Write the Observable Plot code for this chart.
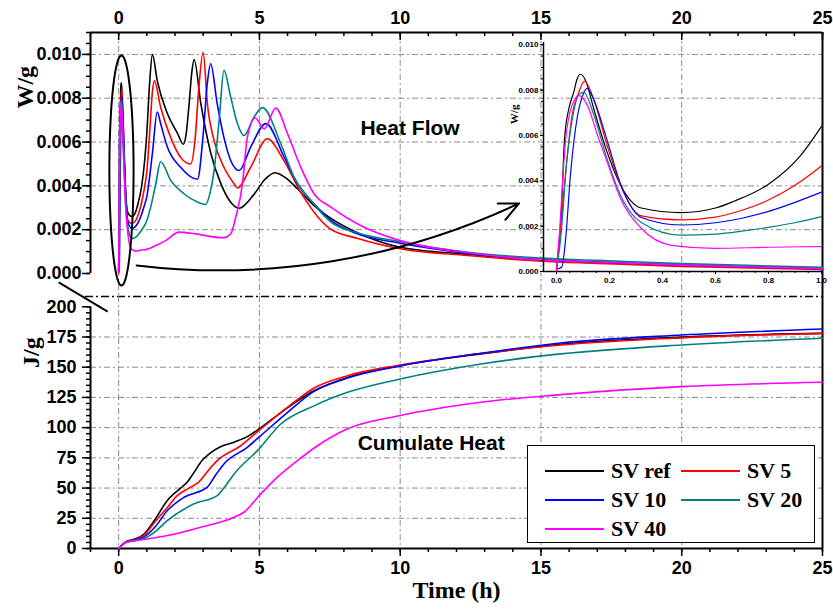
<!DOCTYPE html>
<html><head><meta charset="utf-8">
<script src="https://cdn.jsdelivr.net/npm/d3@7"></script>
<script src="https://cdn.jsdelivr.net/npm/@observablehq/plot@0.6"></script>
<style>
html,body{margin:0;padding:0;background:#fff;}
#chart{position:relative;width:833px;height:613px;overflow:hidden;background:#fff;}
#chart > svg{position:absolute;}
.legend{position:absolute;left:527px;top:445px;width:288px;height:98px;border:1.5px solid #000;background:#fff;box-sizing:border-box;font-family:"Liberation Serif","Times New Roman",serif;font-weight:bold;font-size:22px;}
.legend .sw{position:absolute;height:2px;width:59px;margin-top:-1px;}
.legend .lb{position:absolute;line-height:1;transform:translateY(-52%);white-space:nowrap;}
</style></head><body><div id="chart"></div>
<script>
// ---------- data ----------
const seriesNames = ["SV ref", "SV 5", "SV 10", "SV 20", "SV 40"];
const seriesColors = ["#000000", "#ff0000", "#0000ff", "#008080", "#ff00ff"];

// Heat flow (W/g) vs time (h): [time, value]
const hfRef = [[0,0.0001],[0.02,0.0030],[0.03,0.0058],[0.047,0.0072],[0.065,0.0079],[0.078,0.0085],[0.09,0.0087],[0.109,0.00845],[0.14,0.0072],[0.19,0.0053],[0.24,0.00385],[0.32,0.0028],[0.47,0.0026],[0.6,0.0028],[0.67,0.0031],[0.8,0.00385],[0.92,0.0051],[1.0,0.0064],[1.1,0.0087],[1.2,0.0100],[1.37,0.0088],[1.73,0.0073],[2.09,0.0064],[2.3,0.0059],[2.4,0.0064],[2.5,0.0077],[2.6,0.0092],[2.68,0.00977],[2.92,0.00775],[3.27,0.0055],[3.63,0.0041],[3.98,0.00325],[4.28,0.00298],[4.8,0.0036],[5.2,0.0043],[5.55,0.0046],[6.0,0.0043],[6.35,0.00387],[6.94,0.0031],[7.5,0.00255],[8.5,0.00185],[10,0.0012],[12.4,0.00088],[15,0.00062],[17,0.0005],[20,0.00038],[25,0.00022]];
const hf5 = [[0,0.0],[0.034,0.0043],[0.059,0.0069],[0.084,0.0079],[0.106,0.0084],[0.14,0.0076],[0.19,0.0056],[0.24,0.00385],[0.32,0.00245],[0.47,0.00228],[0.6,0.0024],[0.7,0.0027],[0.8,0.00315],[0.9,0.0038],[1.0,0.00465],[1.1,0.0064],[1.2,0.0083],[1.27,0.0088],[1.49,0.0076],[1.85,0.0062],[2.2,0.0053],[2.56,0.0050],[2.72,0.0062],[2.85,0.0085],[3.0,0.0101],[3.15,0.00775],[3.39,0.00607],[3.74,0.00485],[4.1,0.0041],[4.22,0.0039],[4.69,0.00485],[5.28,0.00615],[5.87,0.00515],[6.47,0.0037],[7.5,0.00205],[8.5,0.0016],[10,0.00113],[12.4,0.00082],[15,0.00056],[17,0.00046],[20,0.00032],[25,0.00018]];
const hf10 = [[0,0.0001],[0.02,0.0002],[0.034,0.00136],[0.053,0.0043],[0.078,0.00677],[0.097,0.0077],[0.116,0.00808],[0.141,0.00757],[0.19,0.00583],[0.24,0.00392],[0.32,0.00238],[0.47,0.00205],[0.6,0.00215],[0.7,0.00235],[0.8,0.00265],[0.9,0.00305],[1.0,0.0035],[1.2,0.0055],[1.37,0.00737],[1.5,0.0068],[1.73,0.00577],[2.2,0.00485],[2.8,0.0043],[3.0,0.0063],[3.15,0.0087],[3.27,0.00957],[3.5,0.00775],[3.74,0.0062],[3.98,0.00516],[4.28,0.0047],[4.69,0.00577],[5.23,0.00684],[5.88,0.00531],[6.35,0.0041],[6.94,0.00318],[7.54,0.00242],[8.5,0.0018],[10,0.00138],[12.4,0.00092],[15,0.00063],[17,0.00053],[20,0.00038],[25,0.00022]];
const hf20 = [[0,0.0001],[0.015,0.00136],[0.04,0.005],[0.065,0.00706],[0.084,0.0078],[0.103,0.0079],[0.141,0.0069],[0.19,0.005],[0.24,0.0034],[0.32,0.00216],[0.47,0.0016],[0.6,0.00165],[0.7,0.00178],[0.8,0.00195],[0.9,0.00215],[1.0,0.00242],[1.15,0.0031],[1.32,0.0041],[1.49,0.0051],[1.85,0.00425],[2.32,0.00364],[2.8,0.00326],[3.09,0.00315],[3.25,0.0037],[3.39,0.0047],[3.57,0.0070],[3.74,0.00927],[3.98,0.00805],[4.22,0.00684],[4.45,0.0063],[4.81,0.00714],[5.11,0.00757],[5.76,0.00592],[6.23,0.0044],[6.83,0.00333],[7.54,0.00234],[8.5,0.00185],[10,0.00145],[12.4,0.00097],[15,0.0007],[17,0.0006],[20,0.00045],[25,0.00028]];
const hf40 = [[0,0.0001],[0.009,0.00136],[0.034,0.00575],[0.059,0.00735],[0.084,0.00776],[0.116,0.00735],[0.154,0.00604],[0.19,0.00487],[0.24,0.00326],[0.317,0.00194],[0.44,0.00114],[0.6,0.00102],[0.8,0.00107],[1.0,0.0011],[1.32,0.00128],[1.67,0.0015],[2.14,0.00189],[2.74,0.00181],[3.69,0.00163],[3.98,0.00181],[4.16,0.00257],[4.4,0.0041],[4.57,0.00622],[4.85,0.0071],[5.17,0.0066],[5.58,0.00755],[6.0,0.00638],[6.47,0.00485],[6.94,0.00364],[7.54,0.00303],[8.72,0.00211],[10,0.0015],[12.4,0.00095],[15,0.00062],[17,0.00052],[20,0.00038],[25,0.00022]];

// Cumulative heat (J/g) vs time (h): [time, value]
const chRef = [[0,0],[0.1,2.5],[0.25,5.5],[0.6,8],[0.9,12],[1.26,23],[1.73,39.7],[2.2,50],[2.44,55],[2.65,62],[2.97,73],[3.25,79],[3.6,84],[4.1,88],[4.6,93],[5.05,100],[5.76,112.5],[6.94,130.5],[8.13,141.5],[10,151.3],[12.87,161],[15.7,169],[20,175],[25,178]];
const ch5 = [[0,0],[0.1,2.5],[0.25,5.3],[0.6,7.5],[0.9,11],[1.32,23],[1.73,34],[2.09,44],[2.5,50],[2.8,54],[3.2,65],[3.5,72.7],[4.34,85],[5.05,99],[6.0,116.8],[6.94,132.8],[8.13,143],[10,151.8],[12.87,161.4],[15.7,168.4],[20,174.3],[25,178]];
const ch10 = [[0,0],[0.1,2.3],[0.25,5.2],[0.6,7],[0.9,9.6],[1.3,18],[1.73,31.4],[2.32,42.4],[3.15,50.7],[3.45,61],[3.74,70],[4.57,83.7],[5.05,93.4],[6.0,112.7],[6.94,130],[8.13,141],[10,151],[12.87,161.5],[15.7,170],[20,176.6],[25,181.6]];
const ch20 = [[0,0],[0.1,2.2],[0.25,5],[0.6,6.5],[0.9,8.3],[1.3,14],[1.73,23.1],[2.68,37],[3.5,43.8],[3.8,52],[4.1,61.7],[4.93,81],[5.76,103],[6.94,118],[8.13,129.2],[10,140.3],[12.87,152.7],[15.7,161],[20,168.4],[25,173.9]];
const ch40 = [[0,0],[0.1,2.2],[0.25,5.2],[0.9,7.5],[1.73,10.7],[2.92,17.6],[4.1,25.9],[4.45,30],[5.05,45.2],[5.64,59],[6.35,72.7],[7.0,84],[8.13,99],[10,110],[12.87,121],[15.7,127.3],[20,133.9],[25,137.5]];

// ticks
const xTicks = [0, 5, 10, 15, 20, 25];
const xMinorTicks = d3.range(-1, 26, 1);
const hfTicks = [0, 0.002, 0.004, 0.006, 0.008, 0.010];
const hfMinorTicks = d3.range(0, 0.01101, 0.0005);
const chTicks = [0, 25, 50, 75, 100, 125, 150, 175, 200];
const chMinorTicks = d3.range(0, 201, 5);
const insetXTicks = [0, 0.2, 0.4, 0.6, 0.8, 1.0];
const insetXMinorTicks = d3.range(0, 1.001, 0.05);
const insetYTicks = [0, 0.002, 0.004, 0.006, 0.008, 0.010];
const insetYMinorTicks = d3.range(0, 0.01001, 0.0005);

// annotations (data units)
const ellipseSpec = {cx: 0.1, cy: 0.0047, rx: 0.43, ry: 0.00525};
const arrowSpec = [{t1: 0.64, v1: 0.00037, t2: 14.22, v2: 0.0032}];
const breakSpec = [{t1: -2.13, v1: -0.00041, t2: -0.39, v2: -0.00174}];

// ---------- build tables ----------
const toRows = (arrs) => arrs.flatMap((arr, i) => arr.map(([t, v]) => ({series: seriesNames[i], t, v})));
const hfRows = toRows([hfRef, hf5, hf10, hf20, hf40]);
const chRows = toRows([chRef, ch5, ch10, ch20, ch40]);
const insetRows = hfRows.filter(d => d.t <= 1.0);
const ellipsePts = d3.range(0, 361, 4).map(a => ({t: ellipseSpec.cx + ellipseSpec.rx * Math.cos(a * Math.PI / 180), v: ellipseSpec.cy + ellipseSpec.ry * Math.sin(a * Math.PI / 180)}));

const SANS = "'Liberation Sans', Arial, sans-serif";
const SERIF = "'Liberation Serif', 'Times New Roman', serif";
const color = {domain: seriesNames, range: seriesColors};
const grid = {stroke: "#8a8a8a", strokeWidth: 1, strokeDasharray: "6,3,2,3"};
const chart = document.getElementById("chart");

// ---------- upper panel: heat flow ----------
const upH = 320, upTop = 32, upBottom = 24, upPlotH = upH - upTop - upBottom;
const upper = Plot.plot({
  width: 833, height: upH,
  marginLeft: 90, marginRight: 11, marginTop: upTop, marginBottom: upBottom,
  x: {domain: [-1, 25]},
  y: {domain: [-0.00105, 0.011]},
  color,
  style: {background: "transparent", fontFamily: SANS, fontSize: "18px", fontWeight: "bold", overflow: "visible"},
  marks: [
    Plot.ruleY(hfTicks.filter(d => d > 0), grid),
    Plot.ruleX(xTicks.filter(d => d < 25), grid),
    Plot.axisX(xTicks, {anchor: "top", tickSize: 0, tickPadding: 9, label: null}),
    Plot.tickX(xMinorTicks, {x: d => d, insetBottom: upPlotH - 4, strokeWidth: 1.5}),
    Plot.tickX(xTicks, {x: d => d, insetBottom: upPlotH - 8, strokeWidth: 1.5}),
    Plot.axisY(hfTicks, {anchor: "left", tickSize: 8, tickPadding: 1, tickFormat: ".3f", strokeWidth: 1.5, label: null}),
    Plot.axisY(hfMinorTicks, {anchor: "left", tickSize: 4, tickFormat: () => "", strokeWidth: 1.5, label: null}),
    Plot.ruleX([-1], {y1: 0, y2: 0.011, strokeWidth: 2}),
    Plot.ruleY([0.011], {strokeWidth: 2}),
    Plot.ruleX([25], {strokeWidth: 2}),
    Plot.ruleY([-0.00105], {x1: -1.18, x2: 25, stroke: "#000", strokeWidth: 1.3, strokeDasharray: "8,3,2,3"}),
    Plot.link(breakSpec, {x1: "t1", y1: "v1", x2: "t2", y2: "v2", strokeWidth: 2}),
    Plot.line(hfRows, {x: "t", y: "v", z: "series", stroke: "series", curve: "monotone-x", strokeWidth: 1.6}),
    Plot.line(ellipsePts, {x: "t", y: "v", curve: "linear-closed", stroke: "#000", strokeWidth: 2}),
    Plot.arrow(arrowSpec, {x1: "t1", y1: "v1", x2: "t2", y2: "v2", bend: -16, strokeWidth: 2, headLength: 16, headAngle: 50}),
    Plot.text(["Heat Flow"], {x: 10.35, y: 0.00662, fontSize: 21, fontWeight: "bold", fontFamily: SANS}),
    Plot.text(["W/g"], {x: -3.3, y: 0.0085, rotate: -90, fontSize: 24, fontWeight: "bold", fontFamily: SERIF})
  ]
});
upper.style.left = "0px"; upper.style.top = "0px";
chart.appendChild(upper);

// ---------- lower panel: cumulative heat ----------
const lower = Plot.plot({
  width: 833, height: 333,
  marginLeft: 90, marginRight: 11, marginTop: 16, marginBottom: 65,
  x: {domain: [-1, 25]},
  y: {domain: [0, 208.5]},
  color,
  style: {background: "transparent", fontFamily: SANS, fontSize: "18px", fontWeight: "bold", overflow: "visible"},
  marks: [
    Plot.ruleY(chTicks.filter(d => d > 0 && d < 200), grid),
    Plot.ruleX(xTicks.filter(d => d < 25), grid),
    Plot.axisX(xTicks, {anchor: "bottom", tickSize: 8, tickPadding: 5, strokeWidth: 1.5, label: null}),
    Plot.axisX(xMinorTicks, {anchor: "bottom", tickSize: 4, tickFormat: () => "", strokeWidth: 1.5, label: null}),
    Plot.axisY(chTicks, {anchor: "left", tickSize: 8, tickPadding: 6, strokeWidth: 1.5, label: null}),
    Plot.axisY(chMinorTicks, {anchor: "left", tickSize: 4, tickFormat: () => "", strokeWidth: 1.5, label: null}),
    Plot.ruleX([-1], {y1: 0, y2: 200, strokeWidth: 2}),
    Plot.ruleY([0], {strokeWidth: 2}),
    Plot.ruleX([25], {strokeWidth: 2}),
    Plot.line(chRows, {x: "t", y: "v", z: "series", stroke: "series", curve: "monotone-x", strokeWidth: 1.6}),
    Plot.text(["Cumulate Heat"], {x: 11.1, y: 86.8, fontSize: 21, fontWeight: "bold", fontFamily: SANS}),
    Plot.text(["J/g"], {x: -3.1, y: 162, rotate: -90, fontSize: 24, fontWeight: "bold", fontFamily: SERIF}),
    Plot.text(["Time (h)"], {frameAnchor: "bottom", dy: 49, fontSize: 24, fontWeight: "bold", fontFamily: SERIF})
  ]
});
lower.style.left = "0px"; lower.style.top = "280px";
chart.appendChild(lower);

// ---------- inset: first hour ----------
const inset = Plot.plot({
  width: 333, height: 270,
  marginLeft: 43, marginRight: 12, marginTop: 12, marginBottom: 29,
  x: {domain: [-0.049, 1.0]},
  y: {domain: [0, 0.0101]},
  color,
  style: {background: "transparent", fontFamily: SANS, fontSize: "8px", fontWeight: "bold", overflow: "visible"},
  marks: [
    Plot.axisX(insetXTicks, {anchor: "bottom", tickSize: 3, tickPadding: 3, tickFormat: ".1f", label: null}),
    Plot.axisX(insetXMinorTicks, {anchor: "bottom", tickSize: 2, tickFormat: () => "", label: null}),
    Plot.axisY(insetYTicks, {anchor: "left", tickSize: 3, tickPadding: 2, tickFormat: ".3f", label: null}),
    Plot.axisY(insetYMinorTicks, {anchor: "left", tickSize: 2, tickFormat: () => "", label: null}),
    Plot.ruleX([-0.049], {strokeWidth: 1.5}),
    Plot.ruleY([0], {strokeWidth: 1.5}),
    Plot.line(insetRows, {x: "t", y: "v", z: "series", stroke: "series", curve: "monotone-x", strokeWidth: 1.2}),
    Plot.text(["W/g"], {x: -0.158, y: 0.00693, rotate: -90, fontSize: 11, fontWeight: "bold", fontFamily: SERIF})
  ]
});
inset.style.left = "500px"; inset.style.top = "30px";
chart.appendChild(inset);

// ---------- legend ----------
const legend = document.createElement("div");
legend.className = "legend";
const legendPos = [[0, 0], [1, 0], [0, 1], [1, 1], [0, 2]];
seriesNames.forEach((name, i) => {
  const [c, r] = legendPos[i];
  const y = 25 + r * 29;
  const sw = document.createElement("div");
  sw.className = "sw";
  sw.style.left = (c ? 153 : 17) + "px";
  sw.style.top = y + "px";
  sw.style.background = seriesColors[i];
  const lb = document.createElement("div");
  lb.className = "lb";
  lb.style.left = (c ? 219 : 83) + "px";
  lb.style.top = y + "px";
  lb.textContent = name;
  legend.appendChild(sw);
  legend.appendChild(lb);
});
chart.appendChild(legend);
</script></body></html>
